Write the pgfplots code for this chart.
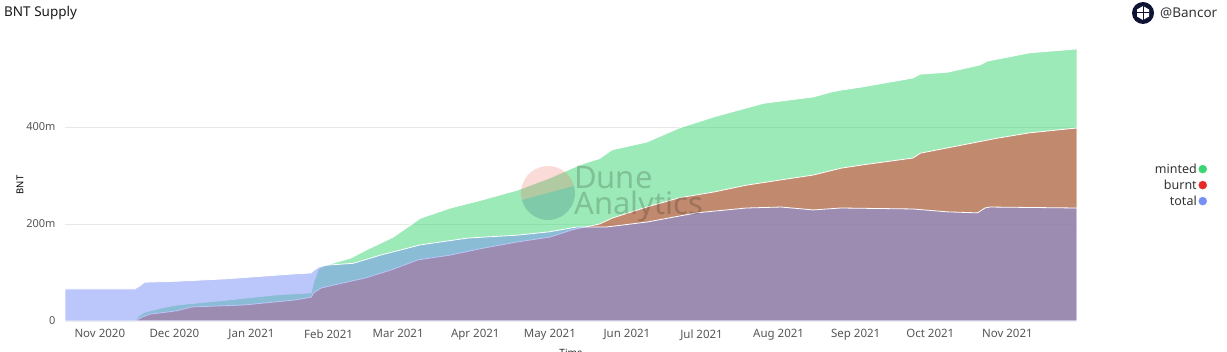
\documentclass[border=0pt]{standalone}
\usepackage{pgfplots}
\pgfplotsset{compat=1.18}
\usepackage{fontspec}
\setmainfont{Noto Sans}
\definecolor{Gc}{RGB}{59,213,115}
\definecolor{Rc}{RGB}{231,42,37}
\definecolor{Bc}{RGB}{119,143,245}
\definecolor{tickc}{RGB}{85,85,85}
\definecolor{navy}{RGB}{14,20,50}
\definecolor{wmA}{RGB}{240,110,95}
\definecolor{wmB}{RGB}{40,110,120}
\begin{document}
\begin{tikzpicture}
\path[use as bounding box] (0,0) rectangle (1227pt,351pt);
\begin{axis}[
  at={(65pt,30pt)}, anchor=south west, scale only axis,
  width=1012pt, height=291pt,
  xmin=-14, xmax=393, ymin=0, ymax=600,
  axis line style={draw=none}, tick style={draw=none},
  ymajorgrids, xmajorgrids=false, grid style={gray!18, line width=0.6pt},
  ytick={0,200,400}, yticklabels={0,200m,400m},
  xtick={0,30,61,92,120,151,181,212,242,273,304,334,365},
  xticklabels={Nov 2020,Dec 2020,Jan 2021,Feb 2021,Mar 2021,Apr 2021,May 2021,Jun 2021,Jul 2021,Aug 2021,Sep 2021,Oct 2021,Nov 2021},
  yticklabel style={font=\fontsize{11}{13}\selectfont, text=tickc, anchor=east, xshift=-6pt},
  xticklabel style={font=\fontsize{11.5}{13}\selectfont, text=tickc, yshift=-5pt},
  legend plot pos=right,
  legend cell align=right,
  legend style={at={(axis description cs:1.1314,0.467)}, anchor=east, draw=none, fill=none,
    font=\fontsize{12.5}{14}\selectfont, text=black!80, row sep=1pt},
]
\addplot[fill=Gc, fill opacity=0.5, draw=white, line width=0.8pt, forget plot] coordinates {
(14,0) (16,12) (18,18) (25,27) (31,33) (51,43) (71,54) (85,58) (86,80) (88,108) (91,115)
(101,130) (107,146) (118,173) (129,212) (141,233) (154,250) (168,270) (181,295) (193,322)
(201,335) (206,353) (220,369) (233,398) (247,421) (267,449) (287,462) (294,472) (298,476)
(307,483) (327,501) (330,509) (341,513) (354,528) (357,536) (374,553) (393,561)
} \closedcycle;
\addplot[fill=Rc, fill opacity=0.5, draw=white, line width=0.8pt, forget plot] coordinates {
(14,0) (17,8) (20,14) (31,21) (37,29) (58,33) (78,43) (85,49) (86,58) (89,68) (94,74)
(107,89) (117,105) (128,126) (141,136) (154,150) (168,163) (181,173) (190,188) (201,200)
(206,212) (220,235) (233,254) (247,266) (260,280) (274,291) (287,301) (298,315) (307,322)
(327,336) (330,346) (347,363) (361,377) (374,388) (393,398)
} \closedcycle;
\addplot[fill=Bc, fill opacity=0.5, draw=white, line width=0.8pt, forget plot] coordinates {
(-14,66) (14,66) (16,72) (18,80) (31,82) (51,87) (78,97) (85,99) (86,104) (88,111) (91,115)
(102,119) (113,136) (129,157) (148,171) (168,177) (181,184) (192,194) (204,194) (220,204)
(240,223) (260,233) (274,235) (287,229) (298,233) (327,231) (341,225) (353,223) (356,233)
(358,235) (393,233)
} \closedcycle;
\addlegendimage{only marks, mark=*, mark size=4pt, mark options={fill=Gc, draw=Gc}}
\addlegendentry{minted}
\addlegendimage{only marks, mark=*, mark size=4pt, mark options={fill=Rc, draw=Rc}}
\addlegendentry{burnt}
\addlegendimage{only marks, mark=*, mark size=4pt, mark options={fill=Bc, draw=Bc}}
\addlegendentry{total}
\end{axis}
% watermark
\begin{scope}
\fill[wmA, opacity=0.25] (548pt,158pt) ++(15:27pt) arc (15:195:27pt) -- cycle;
\fill[wmB, opacity=0.25] (548pt,158pt) ++(195:27pt) arc (195:375:27pt) -- cycle;
\node[anchor=west, font=\fontsize{31}{33}\selectfont, text=black, opacity=0.18, inner sep=0pt] at (574pt,173pt) {Dune};
\node[anchor=west, font=\fontsize{31}{33}\selectfont, text=black, opacity=0.18, inner sep=0pt] at (574pt,145pt) {Analytics};
\end{scope}
% title and labels
\node[anchor=west, font=\fontsize{13.5}{15}\selectfont, text=black!90, inner sep=0pt] at (4pt,338pt) {BNT Supply};
\node[rotate=90, font=\bfseries\fontsize{9.5}{11}\selectfont, text=black] at (20pt,166pt) {BNT};
\node[anchor=north, font=\bfseries\fontsize{10}{11}\selectfont, text=black!85, inner sep=0pt] at (571pt,2pt) {Time};
% Bancor badge
\fill[navy] (1143pt,338pt) circle (11pt);
\fill[white] (1143pt,345pt) -- (1149pt,341.5pt) -- (1149pt,334.5pt) -- (1143pt,331pt) -- (1137pt,334.5pt) -- (1137pt,341.5pt) -- cycle;
\draw[navy, line width=1pt] (1137pt,338pt) -- (1149pt,338pt) (1143pt,345pt) -- (1143pt,331pt);
\node[anchor=west, font=\fontsize{13.5}{15}\selectfont, text=black!80, inner sep=0pt] at (1160pt,338pt) {@Bancor};
\end{tikzpicture}
\end{document}
